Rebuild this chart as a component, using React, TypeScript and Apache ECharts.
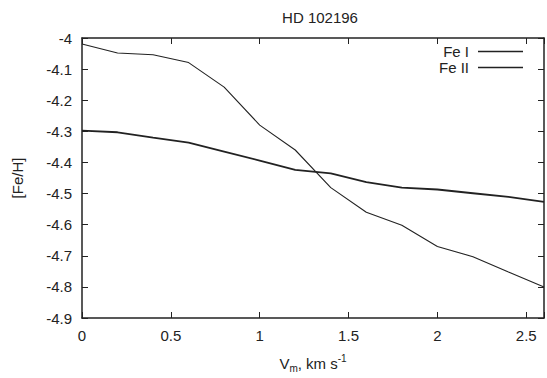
import React, { useEffect, useRef } from "react";
import * as echarts from "echarts";

const titleText = "HD 102196";
const vmValues = [0, 0.2, 0.4, 0.6, 0.8, 1.0, 1.2, 1.4, 1.6, 1.8, 2.0, 2.2, 2.4, 2.6];
const feI = [-4.298, -4.303, -4.32, -4.336, -4.365, -4.394, -4.424, -4.435, -4.463, -4.481, -4.487, -4.499, -4.511, -4.527];
const feII = [-4.019, -4.048, -4.054, -4.079, -4.158, -4.28, -4.36, -4.481, -4.56, -4.602, -4.67, -4.703, -4.752, -4.8];
const seriesNames = ["Fe I", "Fe II"];

const FONT = "'Liberation Sans', Arial, Helvetica, sans-serif";
const INK = "#222";
const FS = 15;

export default function App() {
  const ref = useRef<HTMLDivElement>(null);
  useEffect(() => {
    if (!ref.current) return;
    const chart = echarts.init(ref.current, undefined, { renderer: "svg" });
    const fmtY = (v: number) => String(Math.round(v * 10) / 10);
    const fmtX = (v: number) => (v > 2.55 ? "" : String(Math.round(v * 10) / 10));
    const axisCommon = {
      type: "value" as const,
      axisLine: { show: true, onZero: false, lineStyle: { color: INK, width: 1.5 } },
      axisTick: { show: true, inside: true, length: 6, lineStyle: { color: INK, width: 1 } },
      splitLine: { show: false },
    };
    chart.setOption({
      animation: false,
      textStyle: { fontFamily: FONT },
      title: {
        text: titleText,
        left: 315,
        textAlign: "center",
        top: 5,
        textStyle: { fontFamily: FONT, fontSize: FS, fontWeight: "normal", color: INK },
      },
      legend: {
        orient: "vertical",
        right: 19,
        top: 39,
        align: "right",
        itemWidth: 45,
        itemHeight: 14,
        itemGap: 1,
        textStyle: { fontFamily: FONT, fontSize: FS, color: INK, padding: [0, 4, 0, 0] },
        data: seriesNames.map((n) => ({ name: n, icon: "path://M0,0 L45,0 L45,1.5 L0,1.5 Z", itemStyle: { color: INK } })),
      },
      grid: { left: 82, top: 38, right: -2, bottom: 55 },
      xAxis: [
        {
          ...axisCommon,
          position: "bottom",
          min: 0,
          max: 2.6,
          interval: 0.5,
          axisLabel: { show: true, formatter: fmtX, fontFamily: FONT, fontSize: FS, color: INK, margin: 10 },
          name: "{v|V}{sub|m}{v|, km s}{sup|-1}",
          nameLocation: "middle",
          nameGap: 35,
          nameTextStyle: {
            fontFamily: FONT,
            color: INK,
            rich: {
              v: { fontFamily: FONT, fontSize: FS, color: INK },
              sub: { fontFamily: FONT, fontSize: 10, color: INK, padding: [10, 0, 0, 0] },
              sup: { fontFamily: FONT, fontSize: 10, color: INK, padding: [0, 0, 10, 0] },
            },
          },
        },
        {
          ...axisCommon,
          position: "top",
          min: 0,
          max: 2.6,
          interval: 0.5,
          axisLabel: { show: false },
        },
      ],
      yAxis: [
        {
          ...axisCommon,
          position: "left",
          min: -4.9,
          max: -4,
          interval: 0.1,
          axisLabel: { show: true, formatter: fmtY, fontFamily: FONT, fontSize: FS, color: INK, margin: 10 },
          name: "[Fe/H]",
          nameLocation: "middle",
          nameGap: 57,
          nameTextStyle: { fontFamily: FONT, fontSize: FS, color: INK },
        },
        {
          ...axisCommon,
          position: "right",
          min: -4.9,
          max: -4,
          interval: 0.1,
          axisLabel: { show: false },
        },
      ],
      series: [
        {
          name: seriesNames[0],
          type: "line",
          data: vmValues.map((x, i) => [x, feI[i]]),
          symbol: "none",
          lineStyle: { color: INK, width: 1.8 },
          itemStyle: { color: INK },
        },
        {
          name: seriesNames[1],
          type: "line",
          data: vmValues.map((x, i) => [x, feII[i]]),
          symbol: "none",
          lineStyle: { color: INK, width: 1.1 },
          itemStyle: { color: INK },
        },
      ],
    });
    return () => chart.dispose();
  }, []);
  return (
    <div
      ref={ref}
      style={{ position: "fixed", left: 0, top: 0, width: 547, height: 378, background: "#fff" }}
    />
  );
}
